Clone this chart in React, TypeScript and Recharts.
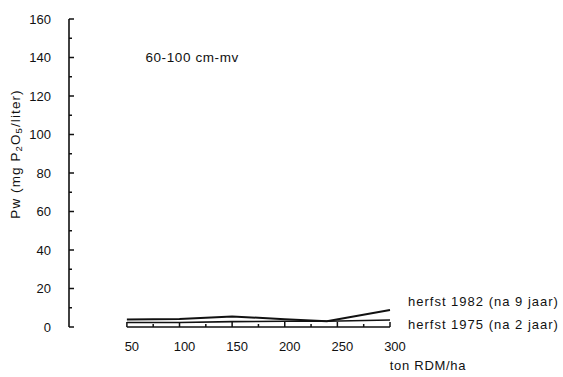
import { LineChart, Line, XAxis, YAxis, ReferenceLine, ReferenceDot, LabelList, Label } from "recharts";

// dosering (ton RDM/ha) en Pw-waarden
const rdm = [50, 100, 150, 200, 240, 300];
const herfst1982 = [3.9, 4.2, 5.5, 4.0, 3.0, 8.8];
const herfst1975 = [2.3, 2.3, 2.8, 3.0, 3.0, 3.6];

const xTicks = [50, 75, 100, 125, 150, 175, 200, 225, 250, 275, 300];
const yTicks = [0, 10, 20, 30, 40, 50, 60, 70, 80, 90, 100, 110, 120, 130, 140, 150, 160];

const data = rdm.map((r, i) => ({ rdm: r, h1982: herfst1982[i], h1975: herfst1975[i] }));

const FONT = '"Liberation Sans", Arial, Helvetica, sans-serif';
const INK = "#111";

function YTick(props: any) {
  const { x, y, payload } = props;
  const v = payload.value as number;
  const major = v % 20 === 0;
  return (
    <g>
      <line x1={x} y1={y} x2={x + (major ? 5 : 3)} y2={y} stroke={INK} strokeWidth={1.5} />
      {major && (
        <text x={x - 18} y={y} textAnchor="end" dominantBaseline="central" fontSize={13} fill={INK} fontFamily={FONT}>
          {v}
        </text>
      )}
    </g>
  );
}

function XTick(props: any) {
  const { x, y, payload } = props;
  const v = payload.value as number;
  const major = v % 50 === 0;
  return (
    <g>
      <line x1={x} y1={y} x2={x} y2={y - (major ? 5 : 3)} stroke={INK} strokeWidth={1.5} />
      {major && (
        <text x={x + 5} y={y + 19} textAnchor="middle" dominantBaseline="central" fontSize={13} fill={INK} fontFamily={FONT}>
          {v}
        </text>
      )}
    </g>
  );
}

function YTitle(props: any) {
  const vb = props.viewBox || { x: 0, y: 0, height: 0 };
  const cx = vb.x + 6;
  const cy = vb.y + vb.height / 2 - 19;
  return (
    <text
      x={cx}
      y={cy}
      transform={`rotate(-90 ${cx} ${cy})`}
      textAnchor="middle"
      dominantBaseline="central"
      fontSize={13.5}
      fill={INK}
      fontFamily={FONT}
      letterSpacing={1.1}
    >
      Pw (mg P
      <tspan dy={3} fontSize={9.5}>2</tspan>
      <tspan dy={-3}>O</tspan>
      <tspan dy={3} fontSize={9.5}>5</tspan>
      <tspan dy={-3}>/liter)</tspan>
    </text>
  );
}

function XTitle(props: any) {
  const vb = props.viewBox || { x: 0, y: 0, width: 0 };
  return (
    <text x={vb.x + vb.width + 38} y={vb.y + 38} textAnchor="middle" dominantBaseline="central" fontSize={13} fill={INK} fontFamily={FONT} letterSpacing={0.7}>
      ton RDM/ha
    </text>
  );
}

function endLabel(text: string, dy: number) {
  return (props: any) => {
    const { x, y, index } = props;
    if (index !== rdm.length - 1) return null;
    return (
      <text x={x + 18} y={y + dy} dominantBaseline="central" fontSize={13} fill={INK} fontFamily={FONT} letterSpacing={1}>
        {text}
      </text>
    );
  };
}

export default function App() {
  return (
    <div style={{ position: "absolute", left: 0, top: 0, width: 563, height: 377, background: "#fff" }}>
      <LineChart width={563} height={377} data={data} margin={{ top: 19, right: 173, left: 9, bottom: 20 }}>
        <XAxis
          dataKey="rdm"
          type="number"
          domain={[-5, 300]}
          ticks={xTicks}
          interval={0}
          axisLine={false}
          tickLine={false}
          tickSize={0}
          tickMargin={0}
          tick={<XTick />}
          height={30}
        >
          <Label content={<XTitle />} />
        </XAxis>
        <YAxis
          type="number"
          domain={[0, 160]}
          ticks={yTicks}
          interval={0}
          width={60}
          axisLine={{ stroke: INK, strokeWidth: 1.6 }}
          tickLine={false}
          tickSize={0}
          tickMargin={0}
          tick={<YTick />}
        >
          <Label content={<YTitle />} />
        </YAxis>
        <ReferenceLine
          segment={[
            { x: 50, y: 0 },
            { x: 300, y: 0 },
          ]}
          stroke={INK}
          strokeWidth={1.6}
        />
        <ReferenceDot x={112} y={140} r={0} fill="none" stroke="none">
          <Label value="60-100 cm-mv" position="center" fontSize={13.5} fill={INK} fontFamily={FONT} letterSpacing={0.6} />
        </ReferenceDot>
        <Line dataKey="h1982" type="linear" stroke={INK} strokeWidth={2} dot={false} isAnimationActive={false}>
          <LabelList dataKey="h1982" content={endLabel("herfst 1982 (na 9 jaar)", -9)} />
        </Line>
        <Line dataKey="h1975" type="linear" stroke={INK} strokeWidth={1.6} dot={false} isAnimationActive={false}>
          <LabelList dataKey="h1975" content={endLabel("herfst 1975 (na 2 jaar)", 4)} />
        </Line>
      </LineChart>
    </div>
  );
}
